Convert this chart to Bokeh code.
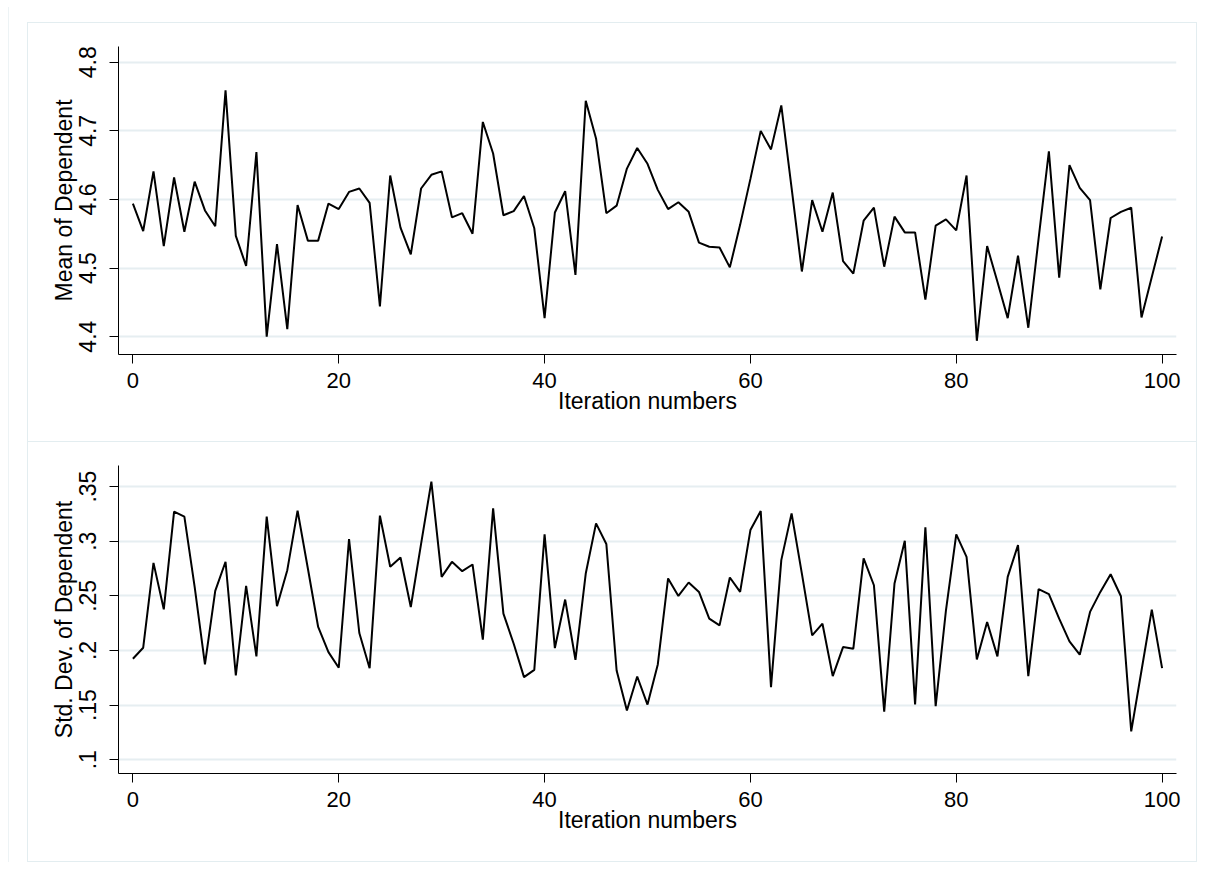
from bokeh.plotting import figure
from bokeh.layouts import column
from bokeh.models import FixedTicker, Range1d
from bokeh.embed import file_html
from bokeh.resources import INLINE

iterations = list(range(101))

mean_dep = [
    4.594, 4.554, 4.641, 4.532, 4.632, 4.553, 4.626, 4.584, 4.561, 4.759,
    4.547, 4.503, 4.669, 4.400, 4.535, 4.411, 4.592, 4.540, 4.540, 4.594,
    4.586, 4.611, 4.616, 4.595, 4.444, 4.635, 4.559, 4.520, 4.616, 4.636,
    4.641, 4.574, 4.580, 4.550, 4.713, 4.667, 4.577, 4.583, 4.605, 4.558,
    4.427, 4.581, 4.612, 4.490, 4.744, 4.689, 4.580, 4.591, 4.645, 4.675,
    4.652, 4.614, 4.586, 4.596, 4.582, 4.537, 4.531, 4.530, 4.501, 4.563,
    4.630, 4.700, 4.673, 4.737, 4.617, 4.495, 4.599, 4.553, 4.610, 4.510,
    4.492, 4.569, 4.588, 4.502, 4.575, 4.552, 4.552, 4.454, 4.562, 4.571,
    4.555, 4.635, 4.394, 4.532, 4.480, 4.427, 4.518, 4.413, 4.543, 4.670,
    4.486, 4.650, 4.617, 4.599, 4.469, 4.573, 4.582, 4.588, 4.428, 4.487,
    4.546,
]

sd_dep = [
    0.1924, 0.2025, 0.2802, 0.2377, 0.3271, 0.3225, 0.2582, 0.1872, 0.2545, 0.2812,
    0.1771, 0.2591, 0.1946, 0.3225, 0.2405, 0.2735, 0.3280, 0.2750, 0.2215, 0.1985,
    0.1842, 0.3020, 0.2160, 0.1838, 0.3234, 0.2766, 0.2851, 0.2398, 0.2975, 0.3546,
    0.2674, 0.2811, 0.2726, 0.2787, 0.2099, 0.3301, 0.2337, 0.2062, 0.1756, 0.1823,
    0.3062, 0.2022, 0.2466, 0.1915, 0.2704, 0.3163, 0.2975, 0.1817, 0.1450, 0.1762,
    0.1505, 0.1872, 0.2659, 0.2499, 0.2622, 0.2536, 0.2291, 0.2230, 0.2668, 0.2536,
    0.3102, 0.3277, 0.1664, 0.2827, 0.3255, 0.2704, 0.2138, 0.2245, 0.1765, 0.2031,
    0.2016, 0.2842, 0.2597, 0.1441, 0.2613, 0.3004, 0.1505, 0.3127, 0.1490, 0.2368,
    0.3062, 0.2857, 0.1918, 0.2261, 0.1946, 0.2674, 0.2965, 0.1765, 0.2561, 0.2515,
    0.2291, 0.2083, 0.1961, 0.2353, 0.2536, 0.2698, 0.2496, 0.1260, 0.1817, 0.2374,
    0.1838,
]

x_ticks = [0, 20, 40, 60, 80, 100]
mean_ticks = [4.4, 4.5, 4.6, 4.7, 4.8]
mean_tick_labels = ["4.4", "4.5", "4.6", "4.7", "4.8"]
sd_ticks = [0.1, 0.15, 0.2, 0.25, 0.3, 0.35]
sd_tick_labels = [".1", ".15", ".2", ".25", ".3", ".35"]

x_title = "Iteration numbers"
mean_title = "Mean of Dependent"
sd_title = "Std. Dev. of Dependent"

FONT = "Liberation Sans"
GRID = "#e6eef1"
BORDER = "#e3edf0"


def make_panel(y, yticks, ylabels, yrange, ytitle, margin):
    p = figure(
        width=1170, height=420,
        x_range=Range1d(-1.4, 101.4), y_range=Range1d(*yrange),
        output_backend="svg", toolbar_location=None,
        min_border_left=90, min_border_right=22,
        min_border_top=23, min_border_bottom=89,
        background_fill_color="white", border_fill_color="white",
        outline_line_color=None,
    )
    p.margin = margin
    p.styles = {"border": f"1px solid {BORDER}", "box-sizing": "border-box"}
    p.line(iterations, y, line_color="black", line_width=2)

    xa = p.xaxis[0]
    xa.ticker = FixedTicker(ticks=x_ticks)
    xa.minor_tick_line_color = None
    xa.major_tick_out = 9
    xa.major_tick_in = 0
    xa.axis_line_color = "black"
    xa.major_tick_line_color = "black"
    xa.major_label_text_font = FONT
    xa.major_label_text_font_size = "22px"
    xa.major_label_text_color = "black"
    xa.major_label_standoff = 9
    xa.axis_label = x_title
    xa.axis_label_text_font = FONT
    xa.axis_label_text_font_size = "23px"
    xa.axis_label_text_font_style = "normal"
    xa.axis_label_text_color = "black"
    xa.axis_label_standoff = -3

    ya = p.yaxis[0]
    ya.ticker = FixedTicker(ticks=yticks)
    ya.major_label_overrides = dict(zip(yticks, ylabels))
    ya.minor_tick_line_color = None
    ya.major_tick_out = 9
    ya.major_tick_in = 0
    ya.axis_line_color = "black"
    ya.major_tick_line_color = "black"
    ya.major_label_orientation = "vertical"
    ya.major_label_text_font = FONT
    ya.major_label_text_font_size = "23px"
    ya.major_label_text_color = "black"
    ya.major_label_standoff = 13
    ya.axis_label = ytitle
    ya.axis_label_text_font = FONT
    ya.axis_label_text_font_size = "23px"
    ya.axis_label_text_font_style = "normal"
    ya.axis_label_text_color = "black"
    ya.axis_label_standoff = 0

    p.xgrid.grid_line_color = None
    p.ygrid.grid_line_color = GRID
    p.ygrid.grid_line_width = 2
    return p


p1 = make_panel(mean_dep, mean_ticks, mean_tick_labels, (4.374, 4.823), mean_title, (15, 0, 0, 18))
p2 = make_panel(sd_dep, sd_ticks, sd_tick_labels, (0.0874, 0.3693), sd_title, (0, 0, 0, 18))
p2.styles = {"border": f"1px solid {BORDER}", "border-top": "none", "box-sizing": "border-box"}

layout = column(p1, p2)
layout.margin = (7, 0, 0, 8)
layout.styles = {"border-left": "1px solid #edf3f5"}

open("out.html", "w").write(file_html(layout, INLINE))
